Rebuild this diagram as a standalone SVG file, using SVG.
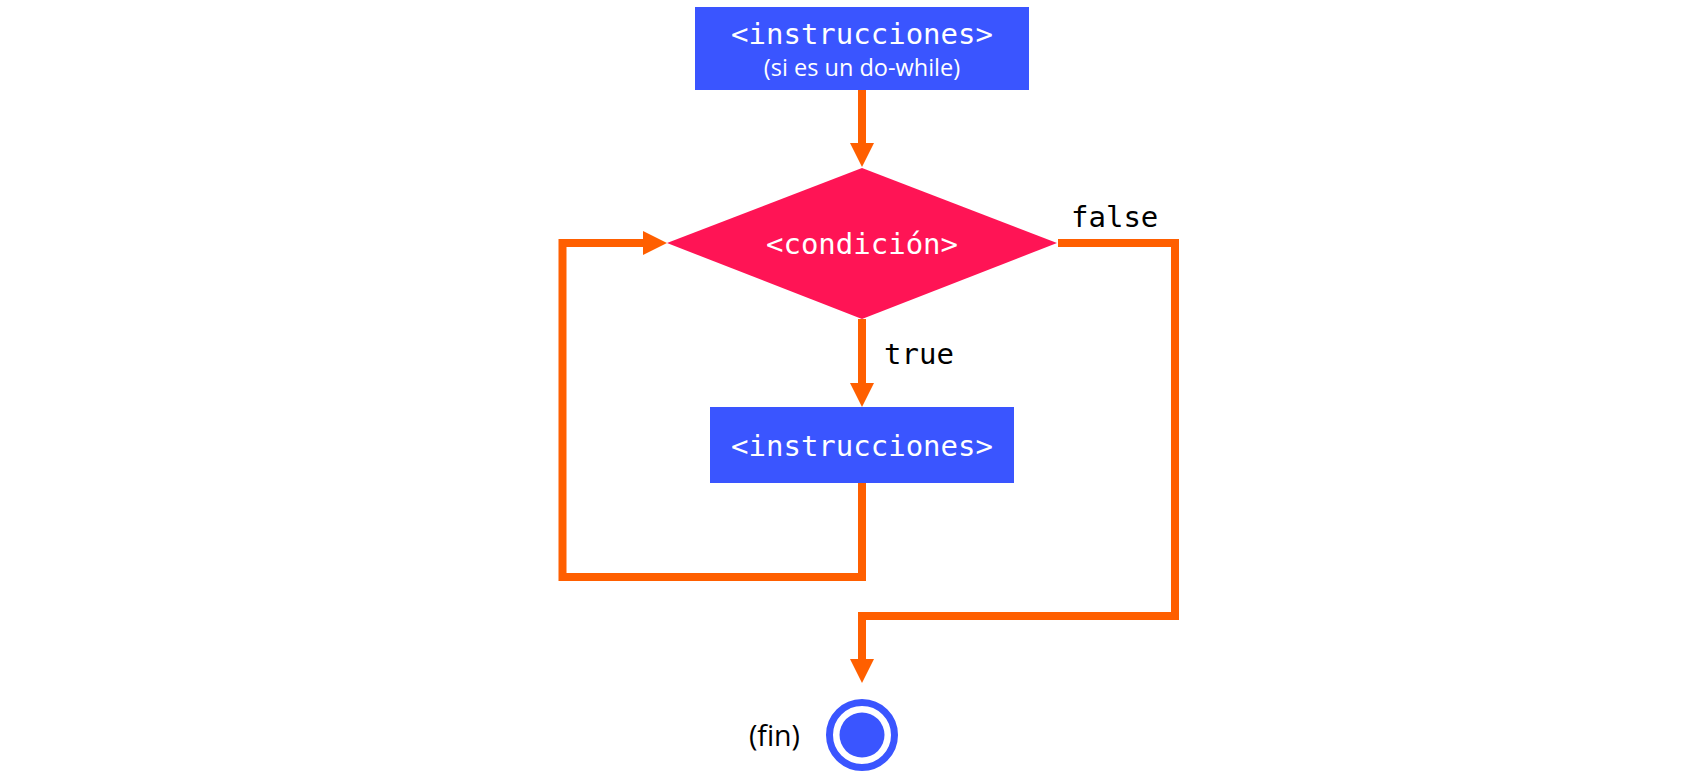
<svg xmlns="http://www.w3.org/2000/svg" width="1696" height="780" viewBox="0 0 1696 780">
  <style>
    .box { fill: #3A55FF; }
    .dia { fill: #FF1455; }
    .mono { font-family: "DejaVu Sans Mono", "Liberation Mono", monospace; font-size: 29px; }
    .sans { font-family: "Open Sans", "Noto Sans", "Liberation Sans", sans-serif; font-variant-ligatures: none; }
    .white { fill: #FFFFFF; }
    .black { fill: #000000; }
    .conn { fill: none; stroke: #FF5F00; stroke-width: 8; stroke-linejoin: miter; stroke-linecap: butt; }
  </style>
  <defs>
    <marker id="arrow" markerUnits="userSpaceOnUse" markerWidth="24" markerHeight="24" refX="0" refY="12" orient="auto" overflow="visible">
      <path d="M0,0 L24,12 L0,24 Z" fill="#FF5F00"/>
    </marker>
  </defs>
  <rect width="1696" height="780" fill="#FFFFFF"/>

  <g id="connectors">
    <path class="conn" d="M862,90 V143" marker-end="url(#arrow)"/>
    <path class="conn" d="M862,319 V383" marker-end="url(#arrow)"/>
    <path class="conn" d="M1058,243 H1175 V616 H862 V659" marker-end="url(#arrow)"/>
    <path class="conn" d="M862,483 V577 H562.5 V243 H643" marker-end="url(#arrow)"/>
    <text class="mono black" x="1071" y="227">false</text>
    <text class="mono black" x="884" y="364">true</text>
  </g>

  <g id="start">
    <rect class="box" x="695" y="7" width="334" height="83"/>
    <text class="mono white" x="862" y="44" text-anchor="middle">&lt;instrucciones&gt;</text>
    <text class="sans white" x="862" y="76" text-anchor="middle" font-size="23.5">(si es un do-while)</text>
  </g>

  <g id="condition">
    <polygon class="dia" points="862,168 1057,243 862,319 667,243"/>
    <text class="mono white" x="862" y="254" text-anchor="middle">&lt;condición&gt;</text>
  </g>

  <g id="body">
    <rect class="box" x="710" y="407" width="304" height="76"/>
    <text class="mono white" x="862" y="456" text-anchor="middle">&lt;instrucciones&gt;</text>
  </g>

  <g id="end">
    <circle cx="862" cy="735" r="32.5" fill="none" stroke="#3A55FF" stroke-width="7"/>
    <circle cx="862" cy="735" r="22.5" fill="#3A55FF"/>
    <text class="sans black" x="800" y="746" text-anchor="end" font-size="28.5">(fin)</text>
  </g>
</svg>
